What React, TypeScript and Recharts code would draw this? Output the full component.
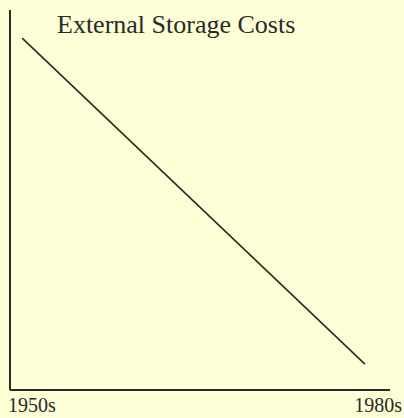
import { LineChart, Line, XAxis, YAxis } from 'recharts';

// Decade labels at the two ends of the time axis
const DECADES = ['1950s', '1980s'];
// Position along the time axis (0 = 1950s, 100 = 1980s) and relative cost
const TIME_POS = [3.2, 93.4];
const COST = [92.6, 6.8];

const data = TIME_POS.map((t, i) => ({ t, cost: COST[i] }));

const INK = '#2a2a2a';
const SERIF = '"Liberation Serif", "DejaVu Serif", serif';

function DecadeTick(props: any) {
  const { x, y, payload, index } = props;
  const first = index === 0;
  return (
    <text
      x={first ? x - 2 : x + 12}
      y={y + 14}
      textAnchor={first ? 'start' : 'end'}
      fill={INK}
      fontSize={20}
      fontFamily={SERIF}
    >
      {DECADES[payload.value === 0 ? 0 : 1]}
    </text>
  );
}

export default function App() {
  return (
    <div style={{ position: 'fixed', left: 0, top: 0, width: 404, height: 418, background: '#fdfdd6' }}>
      <LineChart width={404} height={418} data={data} margin={{ top: 10, right: 14, left: 8, bottom: 0 }}>
        <XAxis
          type="number"
          dataKey="t"
          domain={[0, 100]}
          ticks={[0, 100]}
          height={28}
          axisLine={{ stroke: INK, strokeWidth: 2 }}
          tickLine={false}
          tick={<DecadeTick />}
        />
        <YAxis
          type="number"
          domain={[0, 100]}
          width={2}
          tick={false}
          tickLine={false}
          axisLine={{ stroke: INK, strokeWidth: 2 }}
        />
        <Line
          type="linear"
          dataKey="cost"
          stroke={INK}
          strokeWidth={1.6}
          dot={false}
          isAnimationActive={false}
        />
      </LineChart>
      <div
        style={{
          position: 'absolute',
          left: 57,
          top: 10,
          fontFamily: SERIF,
          fontSize: 26,
          color: INK,
          whiteSpace: 'nowrap',
          lineHeight: '30px',
        }}
      >
        External Storage Costs
      </div>
    </div>
  );
}
